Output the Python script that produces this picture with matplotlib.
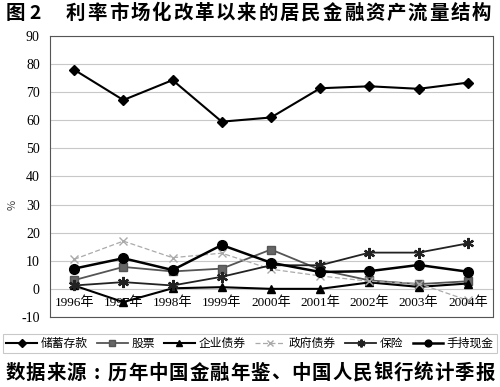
import matplotlib
matplotlib.use("Agg")
import matplotlib.pyplot as plt

plt.rcParams['font.family'] = ['Noto Sans CJK SC', 'DejaVu Sans']

years = ["1996年", "1997年", "1998年", "1999年", "2000年", "2001年", "2002年", "2003年", "2004年"]
savings = [78.0, 67.2, 74.3, 59.5, 61.0, 71.4, 72.1, 71.2, 73.4]
stocks = [3.1, 7.8, 6.2, 7.2, 14.0, 6.8, 3.0, 1.7, 2.7]
corp_bonds = [1.2, -4.7, 0.2, 0.6, 0.0, 0.0, 2.3, 0.7, 1.9]
gov_bonds = [10.5, 17.0, 11.1, 12.7, 7.0, 4.6, 2.7, 1.9, -4.1]
insurance = [1.2, 2.4, 1.2, 4.3, 8.4, 8.4, 12.9, 12.9, 16.2]
cash = [7.2, 10.9, 6.7, 15.6, 9.3, 6.0, 6.3, 8.5, 6.1]
labels = ["储蓄存款", "股票", "企业债券", "政府债券", "保险", "手持现金"]
yticks = [-10, 0, 10, 20, 30, 40, 50, 60, 70, 80, 90]
title = "利率市场化改革以来的居民金融资产流量结构"
source = "数据来源:历年中国金融年鉴、中国人民银行统计季报"

fig = plt.figure(figsize=(5.0, 3.87), dpi=100)
ax = fig.add_axes([0.099, 0.181, 0.886, 0.726])

x = list(range(len(years)))
styles = [
    dict(color='black', lw=1.5, marker='D', ms=5.5),
    dict(color='#555555', lw=1.3, marker='s', ms=6, mfc='#666666'),
    dict(color='black', lw=1.5, marker='^', ms=6),
    dict(color='#aaaaaa', lw=0.9, ls=(0, (4, 2)), marker='x', ms=6, mew=1.0),
    dict(color='#222222', lw=1.3, marker=(6, 2, 0), ms=8, mew=1.6),
    dict(color='black', lw=1.8, marker='o', ms=7),
]
series = [savings, stocks, corp_bonds, gov_bonds, insurance, cash]
handles = []
for vals, st, lab in zip(series, styles, labels):
    h, = ax.plot(x, vals, label=lab, zorder=3, **st)
    handles.append(h)

ax.set_xlim(-0.5, len(years) - 0.5)
ax.set_ylim(-10, 90)
ax.set_yticks(yticks)
ax.set_yticklabels([str(t) for t in yticks], family='Liberation Serif', fontsize=10)
ax.tick_params(axis='y', length=0, pad=7)
ax.set_xticks([])
ax.grid(axis='y', color='#c8c8c8', lw=0.8)
for s in ax.spines.values():
    s.set_linestyle((0, (2, 1)))
    s.set_color('#555555')
    s.set_linewidth(0.8)

for i, yr in enumerate(years):
    ax.text(i, -5, yr, ha='center', va='center', fontsize=9.5,
            family=['Liberation Serif', 'Noto Sans CJK SC'], zorder=4)

fig.text(0.025, 0.47, "%", rotation=90, fontsize=8, ha='center', va='center', color='#444444')


def spaced(s, x0, x1, y, **kw):
    n = len(s)
    step = (x1 - x0) / n
    for k, ch in enumerate(s):
        fig.text(x0 + step * (k + 0.5), y, ch, ha='center', va='center', **kw)

fig.text(0.012, 0.966, "图 2", fontsize=14, weight='bold', ha='left', va='center')
spaced(title, 0.13, 0.985, 0.966, fontsize=14, weight='bold')

leg = fig.legend(handles=handles, labels=labels, loc='center', bbox_to_anchor=(0.5, 0.113),
                 ncol=6, fontsize=8.5, frameon=True, fancybox=False, handlelength=2.6,
                 handletextpad=0.3, columnspacing=0.8, borderpad=0.25, edgecolor='#bbbbbb',
                 markerscale=0.7)
leg.get_frame().set_linewidth(0.8)

spaced(source, 0.01, 0.99, 0.036, fontsize=14, weight='bold')

fig.savefig("out.png", dpi=100)
